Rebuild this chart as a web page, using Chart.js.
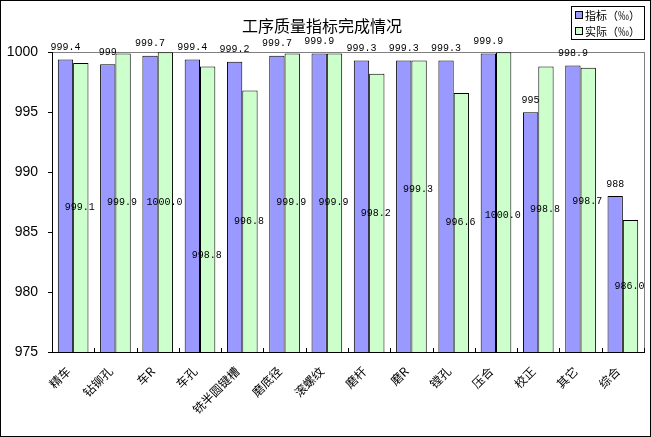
<!DOCTYPE html>
<html>
<head>
<meta charset="utf-8">
<script src="https://cdn.jsdelivr.net/npm/chart.js@4/dist/chart.umd.min.js"></script>
<style>
html,body{margin:0;padding:0;background:#fff;}
#wrap{width:651px;height:437px;position:relative;}
</style>
</head>
<body>
<div id="wrap"><canvas id="c"></canvas></div>
<script>
const categories = ['精车','钻铆孔','车R','车孔','铣半圆键槽','磨底径','滚螺纹','磨杆','磨R','镗孔','压合','校正','其它','综合'];
const targetValues = [999.4, 999, 999.7, 999.4, 999.2, 999.7, 999.9, 999.3, 999.3, 999.3, 999.9, 995, 998.9, 988];
const actualValues = [999.1, 999.9, 1000.0, 998.8, 996.8, 999.9, 999.9, 998.2, 999.3, 996.6, 1000.0, 998.8, 998.7, 986.0];
const yTicks = [975, 980, 985, 990, 995, 1000];
const seriesNames = ['指标（‰）', '实际（‰）'];
const chartTitle = '工序质量指标完成情况';

const colors = ['#9999FF', '#CCFFCC'];
const labelFont = '10px "Liberation Mono", "DejaVu Sans Mono", monospace';

const framePlugin = {
  id: 'frame',
  beforeDraw(chart) {
    const ctx = chart.ctx;
    ctx.save();
    ctx.fillStyle = '#fff';
    ctx.fillRect(0, 0, chart.width, chart.height);
    const a = chart.chartArea;
    ctx.strokeStyle = '#808080';
    ctx.lineWidth = 1;
    ctx.strokeRect(Math.round(a.left) + 0.5, Math.round(a.top) + 0.5, Math.round(a.right - a.left), Math.round(a.bottom - a.top));
    ctx.restore();
  },
  afterDatasetsDraw(chart, args, opts) {
    const ctx = chart.ctx;
    const ys = chart.scales.y;
    const basePx = ys.getPixelForValue(ys.min);
    const shifts = opts.actualLabelShift || [];
    ctx.save();
    ctx.font = labelFont;
    ctx.fillStyle = '#000';
    ctx.textAlign = 'center';
    ctx.textBaseline = 'middle';
    const m0 = chart.getDatasetMeta(0);
    m0.data.forEach((bar, i) => {
      const p = bar.getProps(['x', 'y'], true);
      ctx.fillText(String(targetValues[i]), p.x, p.y - 12);
    });
    const m1 = chart.getDatasetMeta(1);
    m1.data.forEach((bar, i) => {
      const p = bar.getProps(['x', 'y'], true);
      ctx.fillText(actualValues[i].toFixed(1), p.x - 1, (p.y + basePx) / 2 + (shifts[i] || 0));
    });
    ctx.restore();
  },
  afterDraw(chart) {
    const ctx = chart.ctx;
    ctx.save();
    ctx.strokeStyle = '#000';
    ctx.lineWidth = 1;
    ctx.strokeRect(0.5, 0.5, chart.width - 1, chart.height - 1);
    const xs = chart.scales.x;
    const a = chart.chartArea;
    ctx.beginPath();
    for (let i = 0; i <= categories.length; i++) {
      const x = Math.round(xs.getPixelForValue(i - 0.5)) + 0.5;
      ctx.moveTo(x, a.bottom - 4);
      ctx.lineTo(x, a.bottom);
    }
    ctx.stroke();
    const lx = 571, ly = 6, lw = 73, lh = 33;
    ctx.fillStyle = '#fff';
    ctx.fillRect(lx, ly, lw, lh);
    ctx.strokeRect(lx + 0.5, ly + 0.5, lw, lh);
    ctx.font = '11px "Noto Sans CJK SC"';
    ctx.textBaseline = 'middle';
    ctx.textAlign = 'left';
    chart.data.datasets.forEach((ds, i) => {
      const cy = ly + 9 + i * 16;
      ctx.fillStyle = ds.backgroundColor;
      ctx.fillRect(575, cy - 3, 7, 7);
      ctx.strokeStyle = '#000';
      ctx.strokeRect(575.5, cy - 3.5, 7, 7);
      ctx.fillStyle = '#000';
      ctx.fillText(ds.label, 585, cy + 1);
    });
    ctx.restore();
  }
};

new Chart(document.getElementById('c'), {
  type: 'bar',
  data: {
    labels: categories,
    datasets: [
      { label: seriesNames[0], data: targetValues, backgroundColor: colors[0], borderColor: '#000', borderWidth: 1 },
      { label: seriesNames[1], data: actualValues, backgroundColor: colors[1], borderColor: '#000', borderWidth: 1 }
    ]
  },
  options: {
    responsive: true,
    maintainAspectRatio: false,
    animation: false,
    devicePixelRatio: 1,
    layout: { padding: { left: 0, right: 7, top: 0, bottom: 0 } },
    datasets: { bar: { categoryPercentage: 0.725, barPercentage: 1 } },
    plugins: {
      legend: { display: false },
      tooltip: { enabled: false },
      frame: { actualLabelShift: [0, 0, 0, 46, 0, 0, 0, 0, -17, 0, 13, 0, -9, 0] },
      title: {
        display: true,
        text: chartTitle,
        color: '#000',
        font: { family: '"Noto Sans CJK SC"', size: 16, weight: 'normal' },
        padding: { top: 16, bottom: 17 }
      }
    },
    scales: {
      x: {
        grid: { display: false, drawTicks: false },
        border: { display: true, color: '#000', width: 1 },
        ticks: {
          color: '#000',
          font: { family: '"Noto Sans CJK SC"', size: 12 },
          minRotation: 45, maxRotation: 45,
          autoSkip: false,
          padding: 12,
          labelOffset: -5
        },
        afterFit(s) { s.height = 85; }
      },
      y: {
        min: 975, max: 1000,
        afterBuildTicks(s) { s.ticks = yTicks.map(v => ({ value: v })); },
        grid: { drawOnChartArea: false, drawTicks: true, tickLength: 4, color: '#000' },
        border: { display: true, color: '#000', width: 1 },
        ticks: {
          color: '#000',
          font: { family: '"Liberation Sans", Arial', size: 14 },
          padding: 10,
          callback: (v) => String(v)
        },
        afterFit(s) { s.width = 52; }
      }
    }
  },
  plugins: [framePlugin]
});
</script>
</body>
</html>
